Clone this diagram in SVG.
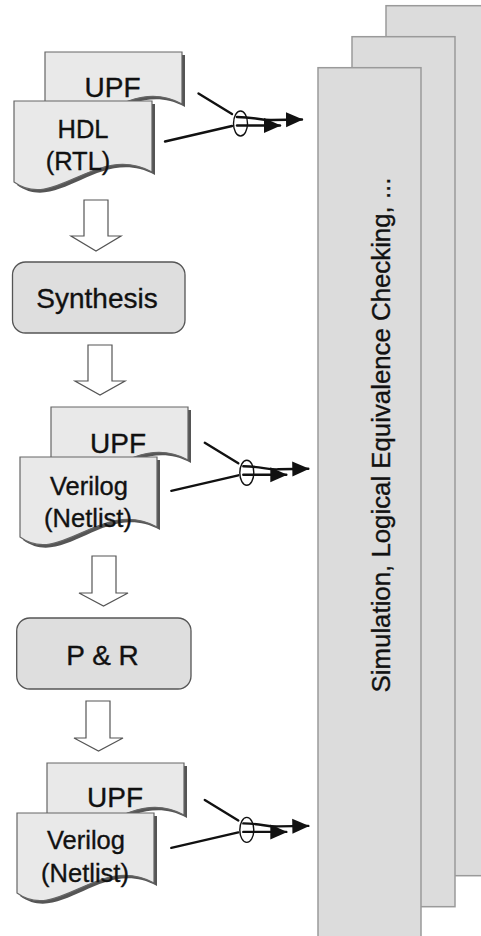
<svg xmlns="http://www.w3.org/2000/svg" xmlns:xlink="http://www.w3.org/1999/xlink" width="481" height="936" viewBox="0 0 481 936">
  <style>
    text { font-family: "Liberation Sans", Arial, Helvetica, sans-serif; fill: #111; stroke: #111; stroke-width: 0.35px; }
    .doc { fill: #e9e9e9; stroke: #666; stroke-width: 1.2; }
    .shadow { fill: #555; stroke: none; }
    .step { fill: #dedede; stroke: #555; stroke-width: 1.3; }
    .flow { fill: #fff; stroke: #555; stroke-width: 1.2; }
    .sheet { fill: #dcdcdc; stroke: #9a9a9a; stroke-width: 1.5; }
    .wire { fill: none; stroke: #111; stroke-width: 2.4; stroke-linecap: round; }
    .tie { fill: none; stroke: #111; stroke-width: 1.4; }
    .lbl { text-anchor: middle; font-size: 25.5px; }
    .big { text-anchor: middle; font-size: 28px; }
  </style>
  <defs>
    <marker id="ah" markerUnits="userSpaceOnUse" markerWidth="18" markerHeight="16" refX="16" refY="8" orient="auto">
      <path d="M0,0.5 L17,8 L0,15.5 Z" fill="#111"/>
    </marker>
    <!-- document outlines with a wavy lower edge -->
    <path id="upf1" d="M45,52 H182 V104 C127.2,74 86.1,144 45,114 Z"/>
    <path id="hdl" d="M14,101 H152 V172 C96.8,142 55.4,212 14,182 Z"/>
    <path id="upf2" d="M51,407 H188 V460 C133.2,430 92.1,500 51,470 Z"/>
    <path id="net2" d="M20,457 H157 V527 C102.2,497 61.1,567 20,537 Z"/>
    <path id="upf3" d="M47,763 H184 V815 C129.2,785 88.1,855 47,825 Z"/>
    <path id="net3" d="M17,813 H154 V883 C99.2,853 58.1,923 17,893 Z"/>
    <!-- two design files bundled into one tool input -->
    <g id="bundle">
      <path class="wire" d="M198.5,93.5 L232,114"/>
      <path class="wire" d="M165,141.5 L232,126"/>
      <ellipse class="tie" cx="240.5" cy="123.5" rx="7" ry="12.5"/>
      <path class="wire" d="M237,117 C255,117 260,120.5 272,120 L302,119.5" marker-end="url(#ah)"/>
      <path class="wire" d="M237,125.5 L280,125.5" marker-end="url(#ah)"/>
    </g>
  </defs>

  <!-- stacked verification sheets -->
  <g id="verification">
    <rect class="sheet" x="386" y="5.7" width="103" height="870"/>
    <rect class="sheet" x="352" y="36.7" width="103" height="870"/>
    <rect class="sheet" x="318" y="67.7" width="103" height="872"/>
    <text transform="translate(389.5,435) rotate(-90)" text-anchor="middle" font-size="25.8">Simulation, Logical Equivalence Checking, ...</text>
  </g>

  <g id="rtl-files">
    <use href="#upf1" class="shadow" transform="translate(3,3)"/>
    <use href="#upf1" class="doc"/>
    <text class="big" x="112.5" y="97">UPF</text>
    <use href="#hdl" class="shadow" transform="translate(3,3)"/>
    <use href="#hdl" class="doc"/>
    <text class="lbl" x="83" y="138.3">HDL</text>
    <text class="lbl" x="78" y="170">(RTL)</text>
  </g>

  <g id="synthesis">
    <rect class="step" x="12.5" y="262" width="172.5" height="71" rx="13"/>
    <text class="big" x="97" y="308">Synthesis</text>
  </g>

  <g id="netlist-files">
    <use href="#upf2" class="shadow" transform="translate(3,3)"/>
    <use href="#upf2" class="doc"/>
    <text class="big" x="118" y="452.7">UPF</text>
    <use href="#net2" class="shadow" transform="translate(3,3)"/>
    <use href="#net2" class="doc"/>
    <text class="lbl" x="89" y="495">Verilog</text>
    <text class="lbl" x="88" y="526.7">(Netlist)</text>
  </g>

  <g id="place-route">
    <rect class="step" x="16.7" y="618" width="174.3" height="71" rx="13"/>
    <text class="big" x="102.5" y="665">P &amp; R</text>
  </g>

  <g id="layout-files">
    <use href="#upf3" class="shadow" transform="translate(3,3)"/>
    <use href="#upf3" class="doc"/>
    <text class="big" x="115" y="807">UPF</text>
    <use href="#net3" class="shadow" transform="translate(3,3)"/>
    <use href="#net3" class="doc"/>
    <text class="lbl" x="86" y="849">Verilog</text>
    <text class="lbl" x="85" y="881.7">(Netlist)</text>
  </g>

  <g id="connectors">
    <!-- hollow flow arrows between stages -->
    <path class="flow" d="M84,200 H108 V236 H121 L96,251 L71,236 H84 Z"/>
    <path class="flow" d="M88,345 H112 V381 H125 L100,395 L75,381 H88 Z"/>
    <path class="flow" d="M92,556 H116 V593 H128 L103.5,606 L79,593 H92 Z"/>
    <path class="flow" d="M86,701 H110 V738 H123 L98.5,751 L74,738 H86 Z"/>
    <!-- file bundles feeding the checks -->
    <use href="#bundle"/>
    <use href="#bundle" transform="translate(6.3,349.3)"/>
    <use href="#bundle" transform="translate(6.3,706.4)"/>
  </g>
</svg>
